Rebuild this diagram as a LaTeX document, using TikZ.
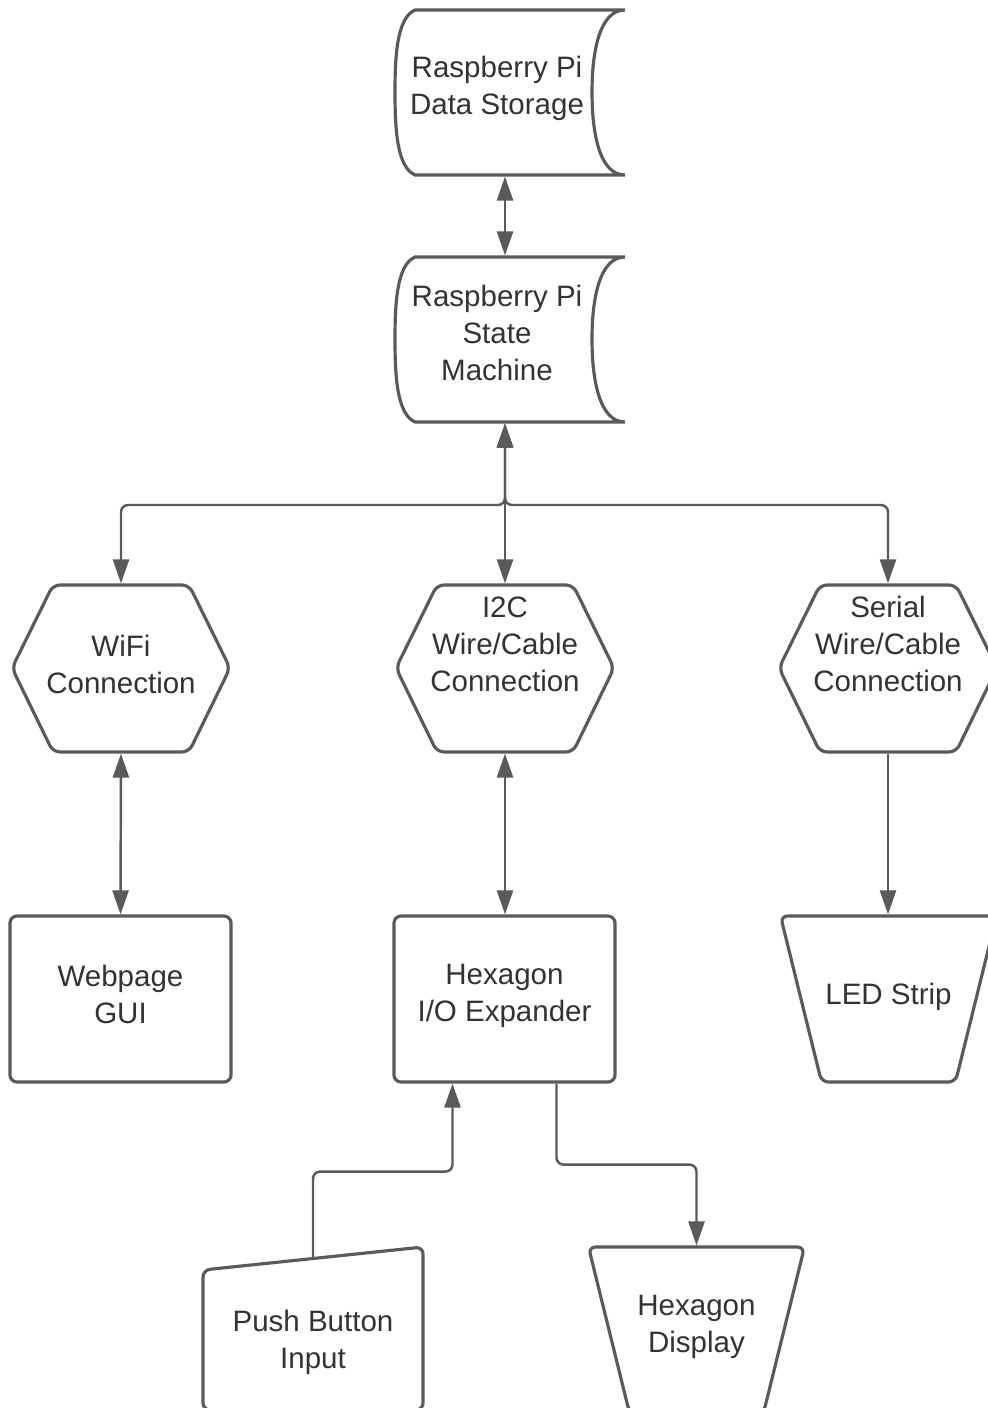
\documentclass[tikz,border=0pt]{standalone}
\usepackage{fontspec}
\setmainfont{Liberation Sans}
\usetikzlibrary{arrows.meta,calc}
\definecolor{FlowLine}{HTML}{5A5A5A}
\definecolor{FlowText}{HTML}{333333}
\newcommand{\FlowPx}{0.02}
\tikzset{
  shapeline/.style = { draw=FlowLine, line width=1.8pt, rounded corners=4pt, fill=white },
  flowtext/.style = { inner sep=0pt, align=center, text=FlowText, font=\fontsize{16.8}{21}\selectfont }
}
\newcommand\StoredData[2][79]{%
  \begin{tikzpicture}[x=\FlowPx cm, y=-\FlowPx cm]
    \path[shapeline, sharp corners] (20,0) -- (230,0)
        .. controls (205,0) and (197,40) .. (197,82)
        .. controls (197,125) and (205,165) .. (230,165) -- (20,165)
        .. controls (2,157) and (0,120) .. (0,82)
        .. controls (0,45) and (2,8) .. (20,0) -- cycle;
    \node[flowtext] (storetext) at (102,#1) {#2};
  \end{tikzpicture}%
}
\newcommand\HexFrame[2][79]{%
  \begin{tikzpicture}[x=\FlowPx cm, y=-\FlowPx cm]
    \path[shapeline] (109,0) -- (177,0) -- (218,83) -- (177,167) -- (41,167) -- (0,83) -- (41,0) -- cycle;
    \node[flowtext] (hextext) at (109,#1) {#2};
  \end{tikzpicture}%
}
\newcommand\RoundBox[2][79]{%
  \begin{tikzpicture}[x=\FlowPx cm, y=-\FlowPx cm]
    \path[shapeline] (0,0) rectangle (221,166);
    \node[flowtext] (boxtext) at (110.5,#1) {#2};
  \end{tikzpicture}%
}
\newcommand\FunnelBox[2][81]{%
  \begin{tikzpicture}[x=\FlowPx cm, y=-\FlowPx cm]
    \path[shapeline] (108,0) -- (216,0) -- (175,166) -- (41,166) -- (0,0) -- cycle;
    \node[flowtext] (funneltext) at (108,#1) {#2};
  \end{tikzpicture}%
}
\newcommand\ManualBox[1]{%
  \begin{tikzpicture}[x=\FlowPx cm, y=-\FlowPx cm]
    \path[shapeline] (110,11.5) -- (220,0) -- (220,163) -- (0,163) -- (0,23) -- cycle;
    \node[flowtext] (manualtext) at (110,95) {#1};
  \end{tikzpicture}%
}

\begin{document}
\begin{tikzpicture}[x=\FlowPx cm, y=-\FlowPx cm,
                    nosep/.style = { inner sep=0pt, outer sep=0pt },
                    link/.style = { draw=FlowLine, line width=1.4pt, rounded corners=4pt },
                    >={Triangle[length=0.48cm, width=0.32cm]}]
  \useasboundingbox[fill=white] (0,0) rectangle (987,1408);

  \node[nosep] (store) at (510,92.5)   {\StoredData[78]{Raspberry Pi\\Data Storage}};
  \node[nosep] (sm) at (510,339.5)     {\StoredData[76]{Raspberry Pi\\State\\Machine}};

  \node[nosep] (wifi) at (121,668.5)   {\HexFrame{WiFi\\Connection}};
  \node[nosep] (i2c) at (505,668.5)    {\HexFrame[59]{I2C\\Wire/Cable\\Connection}};
  \node[nosep] (serial) at (888,668.5) {\HexFrame[59]{Serial\\Wire/Cable\\Connection}};

  \node[nosep] (gui) at (120.5,999)      {\RoundBox[78]{Webpage\\GUI}};
  \node[nosep] (expander) at (504.5,999) {\RoundBox[80]{Hexagon\\I/O Expander}};
  \node[nosep] (led) at (888.5,999)      {\FunnelBox{LED Strip}};

  \node[nosep] (push) at (313,1328.5)      {\ManualBox{Push Button\\Input}};
  \node[nosep] (display) at (696.5,1330)   {\FunnelBox[80]{Hexagon\\Display}};

  \coordinate (fork) at (505,505);
  \coordinate (btnout) at ($(push.north)+(0,11.5)$);
  \coordinate (btnbend) at ($(expander.south)+(-52,88)$);
  \coordinate (dispbend) at ($(expander.south)+(52,81)$);

  \draw[link, <->] (store.south -| i2c.north) -- (sm.north -| i2c.north);
  \draw[link, <->] (sm.south -| fork) -- (fork) -| (wifi.north);
  \draw[link, <->] (sm.south -| fork) -- (fork) -| (serial.north);
  \draw[link, <->] (sm.south -| fork) -- (i2c.north);

  \draw[link, <->] (wifi.south) -- (gui.north);
  \draw[link, <->] (i2c.south) -- (expander.north -| i2c.south);
  \draw[link, ->] (serial.south) -- (led.north -| serial.south);

  \draw[link, ->] (btnout) |- (btnbend) -- (btnbend |- expander.south);
  \draw[link, ->] (dispbend |- expander.south) -- (dispbend) -| (display.north);
\end{tikzpicture}
\end{document}
